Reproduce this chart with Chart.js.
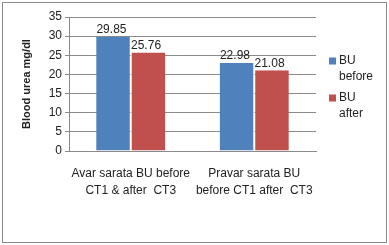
<!DOCTYPE html>
<html><head><meta charset="utf-8">
<script src="https://cdn.jsdelivr.net/npm/chart.js@4"></script>
<style>html,body{margin:0;padding:0;background:#fff}#w{width:389px;height:245px;position:relative}</style>
</head><body><div id="w"><canvas id="c" width="389" height="245"></canvas></div>
<script>
const categories = [["Avar sarata BU before","CT1 & after  CT3"],["Pravar sarata BU","before CT1 after  CT3"]];
const seriesNames = [["BU","before"],["BU","after"]];
const buBefore = [29.85, 22.98];
const buAfter = [25.76, 21.08];
const yTicks = [0,5,10,15,20,25,30,35];
const colors = ["#4F81BD","#C0504D"];
const FONT = "'Liberation Sans', Arial, sans-serif";

const framePlugin = {
  id:'frame',
  beforeDraw(chart){
    const ctx=chart.ctx; ctx.save();
    ctx.fillStyle='#fff'; ctx.fillRect(0,0,chart.width,chart.height);
    ctx.strokeStyle='#8a8a8a'; ctx.lineWidth=1;
    ctx.strokeRect(2.5,2.5,384,240);
    ctx.restore();
  },
  afterDatasetsDraw(chart){
    const ctx=chart.ctx; ctx.save();
    ctx.font='12px '+FONT; ctx.fillStyle='#222'; ctx.textAlign='center'; ctx.textBaseline='bottom';
    chart.data.datasets.forEach((ds,i)=>{
      chart.getDatasetMeta(i).data.forEach((bar,j)=>{
        ctx.fillText(ds.data[j].toFixed(2), bar.x-2, bar.y-1);
      });
    });
    // legend
    const lx=329, ys=[61,98];
    chart.data.datasets.forEach((ds,i)=>{
      ctx.fillStyle=ds.backgroundColor;
      ctx.fillRect(lx, ys[i]-3.5, 7, 7);
      ctx.fillStyle='#222'; ctx.textAlign='left'; ctx.textBaseline='middle';
      seriesNames[i].forEach((t,k)=>ctx.fillText(t, lx+10, ys[i]+k*16));
    });
    ctx.restore();
  }
};

new Chart(document.getElementById('c'),{
  type:'bar',
  data:{labels:categories,datasets:[
    {label:'BU before',data:buBefore,backgroundColor:colors[0],borderColor:'#fff',borderWidth:{left:0,right:1,top:0,bottom:0},borderSkipped:false},
    {label:'BU after',data:buAfter,backgroundColor:colors[1],borderColor:'#fff',borderWidth:{left:1,right:0,top:0,bottom:0},borderSkipped:false}
  ]},
  plugins:[framePlugin],
  options:{
    responsive:false,animation:false,devicePixelRatio:1,
    layout:{padding:{left:0,top:17,right:73,bottom:0}},
    plugins:{legend:{display:false},tooltip:{enabled:false}},
    datasets:{bar:{categoryPercentage:0.56,barPercentage:1}},
    scales:{
      x:{
        grid:{display:false},
        border:{display:true,color:'#8a8a8a'},
        ticks:{color:'#222',font:{family:FONT,size:12,lineHeight:1.4},padding:6,maxRotation:0,autoSkip:false},
        afterFit(s){s.height=94;}
      },
      y:{
        min:0,max:35,
        afterBuildTicks(s){s.ticks=yTicks.map(v=>({value:v}));},
        grid:{color:'#8a8a8a',tickLength:4},
        border:{display:true,color:'#8a8a8a'},
        ticks:{color:'#222',font:{family:FONT,size:12},padding:3},
        title:{display:true,text:'Blood urea mg/dl',color:'#222',font:{family:FONT,size:11,weight:'bold'},padding:{top:20,bottom:0}},
        afterFit(s){s.width=69;}
      }
    }
  }
});
</script></body></html>
